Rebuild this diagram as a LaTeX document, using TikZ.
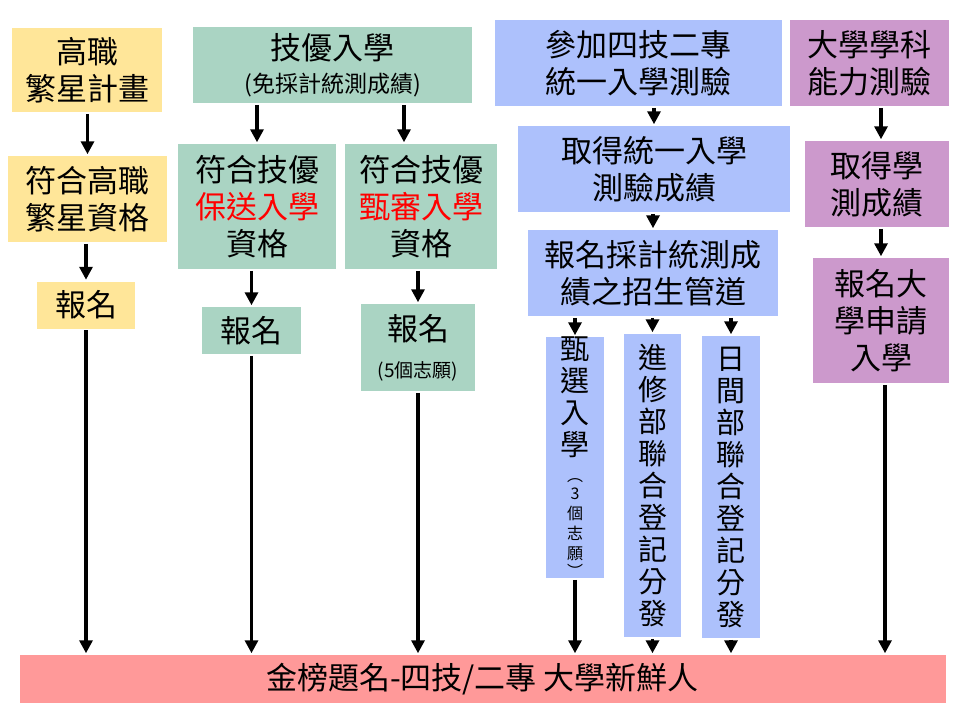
\documentclass[tikz,border=0pt]{standalone}
\usepackage{fontspec}
\setmainfont{Noto Sans CJK TC}
\usepackage{xcolor}
\usetikzlibrary{arrows.meta, positioning}
\definecolor{yelc}{HTML}{FFE699}
\definecolor{grnc}{HTML}{AAD4C3}
\definecolor{bluc}{HTML}{ADC1FC}
\definecolor{purc}{HTML}{CC99CC}
\definecolor{salc}{HTML}{FF9999}
\newcommand{\sm}{\fontsize{23}{26}\selectfont}
\newcommand{\xs}{\fontsize{19}{22}\selectfont}
\newcommand{\vs}{\fontsize{16}{18}\selectfont}

\begin{document}
\begin{tikzpicture}[->, >={Triangle[width=13pt,length=13pt]}, line width=3.5pt, x=1pt, y=-1pt,
		box/.style={inner sep=0pt, align=center, font=\fontsize{31}{37}\selectfont},
		vbox/.style={box, font=\fontsize{29}{32}\selectfont},
		yel/.style={box, fill=yelc},
		grn/.style={box, fill=grnc},
		blu/.style={box, fill=bluc},
		pur/.style={box, fill=purc}]
		\useasboundingbox (0,0) rectangle (960,720);
		
		\node[yel, minimum width=150pt, minimum height=84pt] (a0) at (87,70) {高職\\繁星計畫};
		\node[yel, minimum width=159pt, minimum height=86pt] (a1) at (87.5,199) {符合高職\\繁星資格};
		\node[yel, minimum width=98pt, minimum height=47pt] (a2) at (86,305) {報名};
		
		\node[grn, minimum width=279pt, minimum height=76pt] (b0) at (332.5,65) {技優入學\\[-4pt]{\sm (免採計統測成績)}};
		\node[grn, minimum width=158pt, minimum height=125pt] (b1) at (257,206.5) {符合技優\\\textcolor{red}{保送入學}\\資格};
		\node[grn, minimum width=152pt, minimum height=125pt] (b2) at (421,206.5) {符合技優\\\textcolor{red}{甄審入學}\\資格};
		\node[grn, minimum width=99pt, minimum height=47pt] (b3) at (251.5,330.5) {報名};
		\node[grn, minimum width=114pt, minimum height=87pt] (b4) at (418,347.5) {報名\\{\xs (5個志願)}};
		
		\node[blu, minimum width=287pt, minimum height=86pt] (c0) at (638.5,63) {參加四技二專\\統一入學測驗};
		\node[blu, minimum width=272pt, minimum height=86pt] (c1) at (654,169) {取得統一入學\\測驗成績};
		\node[blu, minimum width=250pt, minimum height=86pt] (c2) at (653,273) {報名採計統測成\\績之招生管道};
		\node[blu, vbox, minimum width=58pt, minimum height=241pt] (c3) at (575,457.5) {甄\\選\\入\\學\\[-6pt]{\vs ︵}\\[-14pt]{\vs 3}\\[-12pt]{\vs 個}\\[-12pt]{\vs 志}\\[-12pt]{\vs 願}\\[-14pt]{\vs ︶}};
		\node[blu, vbox, minimum width=57pt, minimum height=303pt] (c4) at (652.5,485.5) {進\\修\\部\\聯\\合\\登\\記\\分\\發};
		\node[blu, vbox, minimum width=58pt, minimum height=302pt] (c5) at (731,487) {日\\間\\部\\聯\\合\\登\\記\\分\\發};
		
		\node[pur, minimum width=159pt, minimum height=86pt] (d0) at (869.5,63) {大學學科\\能力測驗};
		\node[pur, minimum width=144pt, minimum height=86pt] (d1) at (877,184) {取得學\\測成績};
		\node[pur, minimum width=136pt, minimum height=125pt] (d2) at (881,320.5) {報名大\\學申請\\入學};
		
		\node[box, fill=salc, minimum width=926pt, minimum height=48pt] (e0) at (482.5,679) {金榜題名-四技/二專 大學新鮮人};
		
		\draw (a0.south -| a1.north) -- (a1.north);
		\draw (a1.south -| a2.north) -- (a2.north);
		\draw (b0.south -| b1.north) -- (b1.north);
		\draw ([xshift=-17pt]b2.north |- b0.south) -- ([xshift=-17pt]b2.north);
		\draw (b1.south -| b3.north) -- (b3.north);
		\draw (b2.south -| b4.north) -- (b4.north);
		\draw (c0.south -| c1.north) -- (c1.north);
		\draw (c1.south -| c2.north) -- (c2.north);
		\draw (c2.south -| c3.north) -- (c3.north);
		\draw (c2.south -| c4.north) -- (c4.north);
		\draw (c2.south -| c5.north) -- (c5.north);
		\draw (d0.south -| d2.north) -- (d2.north |- d1.north);
		\draw (d1.south -| d2.north) -- (d2.north);
		
		\draw (a2.south) -- (a2.south |- e0.north);
		\draw (b3.south) -- (b3.south |- e0.north);
		\draw (b4.south) -- (b4.south |- e0.north);
		\draw (c3.south) -- (c3.south |- e0.north);
		\draw (c4.south) -- (c4.south |- e0.north);
		\draw (c5.south) -- (c5.south |- e0.north);
		\draw ([xshift=4pt]d2.south) -- ([xshift=4pt]d2.south |- e0.north);
		
	\end{tikzpicture}
\end{document}
